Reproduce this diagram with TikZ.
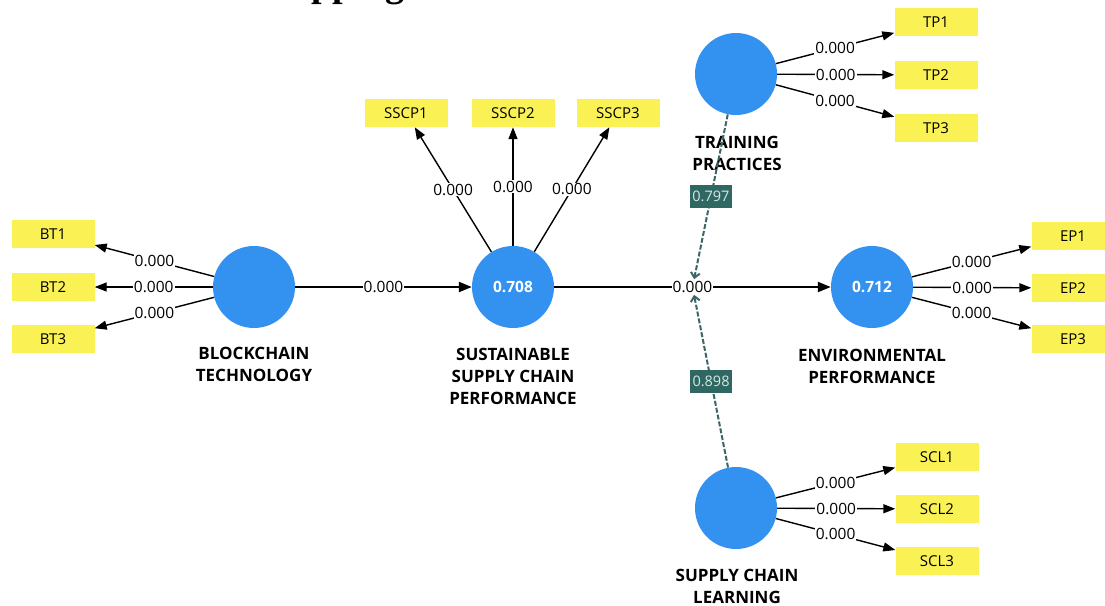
\documentclass[tikz,border=0pt]{standalone}
\usepackage{fontspec}
\setmainfont{Open Sans}
\newfontfamily\titlefont{Liberation Serif}
\usetikzlibrary{arrows.meta}
\definecolor{lvblue}{RGB}{51,145,240}
\definecolor{indyellow}{RGB}{250,242,85}
\definecolor{modteal}{RGB}{47,104,98}
\definecolor{modline}{RGB}{62,102,102}
\definecolor{modtext}{RGB}{215,232,230}
\begin{document}
\begin{tikzpicture}[x=1pt,y=-1pt,
  lv/.style={circle, fill=lvblue, minimum size=82pt, inner sep=0pt, text=white, font=\fontsize{15.5}{18}\selectfont\bfseries},
  ind/.style={fill=indyellow, minimum width=83pt, minimum height=28pt, inner sep=0pt, font=\fontsize{15}{18}\selectfont},
  lvname/.style={font=\fontsize{17}{22}\selectfont\bfseries, align=center, inner sep=0pt},
  load/.style={-{Triangle[length=12pt,width=9pt]}, line width=1.4pt, black},
  strpath/.style={-{Triangle[length=13pt,width=10pt]}, line width=2.2pt, black},
  coef/.style={fill=white, inner sep=1pt, font=\fontsize{15.5}{18}\selectfont},
  modbox/.style={fill=modteal, text=modtext, minimum width=42pt, minimum height=23pt, inner sep=1pt, font=\fontsize{14.5}{18}\selectfont},
  modarrow/.style={modline, line width=2pt, dash pattern=on 5pt off 2pt, -{Straight Barb[length=5pt,width=9pt]}}
]
\clip (0,0) rectangle (1105,605);
\fill[white] (0,0) rectangle (1105,605);

% title fragment (cut off at the top edge, as in the reference)
\node[anchor=base west, inner sep=0pt, font=\titlefont\bfseries\fontsize{38}{40}\selectfont] (title) at (311,-3) {pping};

% latent variables
\node[lv] (bt) at (254,287) {};
\node[lv] (sscp) at (513,287) {0.708};
\node[lv] (ep) at (872,287) {0.712};
\node[lv] (tp) at (736,74) {};
\node[lv] (scl) at (736,508) {};

% names
\node[lvname] (btn) at (254,364) {BLOCKCHAIN\\TECHNOLOGY};
\node[lvname] (sscpn) at (513,376) {SUSTAINABLE\\SUPPLY CHAIN\\PERFORMANCE};
\node[lvname] (epn) at (872,366) {ENVIRONMENTAL\\PERFORMANCE};
\node[lvname] (tpn) at (737,153) {TRAINING\\PRACTICES};
\node[lvname] (scln) at (737,586) {SUPPLY CHAIN\\LEARNING};

% indicators
\node[ind] (bt1) at (53,234) {BT1};
\node[ind] (bt2) at (53,287) {BT2};
\node[ind] (bt3) at (53,339) {BT3};
\node[ind] (sscp1) at (406,113) {SSCP1};
\node[ind] (sscp2) at (513,113) {SSCP2};
\node[ind] (sscp3) at (618,113) {SSCP3};
\node[ind] (tp1) at (936,22) {TP1};
\node[ind] (tp2) at (936,75) {TP2};
\node[ind] (tp3) at (936,128) {TP3};
\node[ind] (ep1) at (1073,236) {EP1};
\node[ind] (ep2) at (1073,288) {EP2};
\node[ind] (ep3) at (1073,339) {EP3};
\node[ind] (scl1) at (937,457) {SCL1};
\node[ind] (scl2) at (937,509) {SCL2};
\node[ind] (scl3) at (937,561) {SCL3};

% loadings
\foreach \lv/\i in {bt/bt1,bt/bt2,bt/bt3,sscp/sscp1,sscp/sscp2,sscp/sscp3,tp/tp1,tp/tp2,tp/tp3,ep/ep1,ep/ep2,ep/ep3,scl/scl1,scl/scl2,scl/scl3}
  \draw[load] (\lv) -- node[coef] {0.000} (\i);

% structural paths
\draw[strpath] (bt) -- node[coef] (p1) {0.000} (sscp);
\draw[strpath] (sscp) -- node[coef] (modl) {0.000} (ep);

% moderating effects
\draw[modarrow] (tp) -- node[modbox] (m1) {0.797} (modl);
\draw[modarrow] (scl) -- node[modbox] (m2) {0.898} (modl);
\end{tikzpicture}
\end{document}
